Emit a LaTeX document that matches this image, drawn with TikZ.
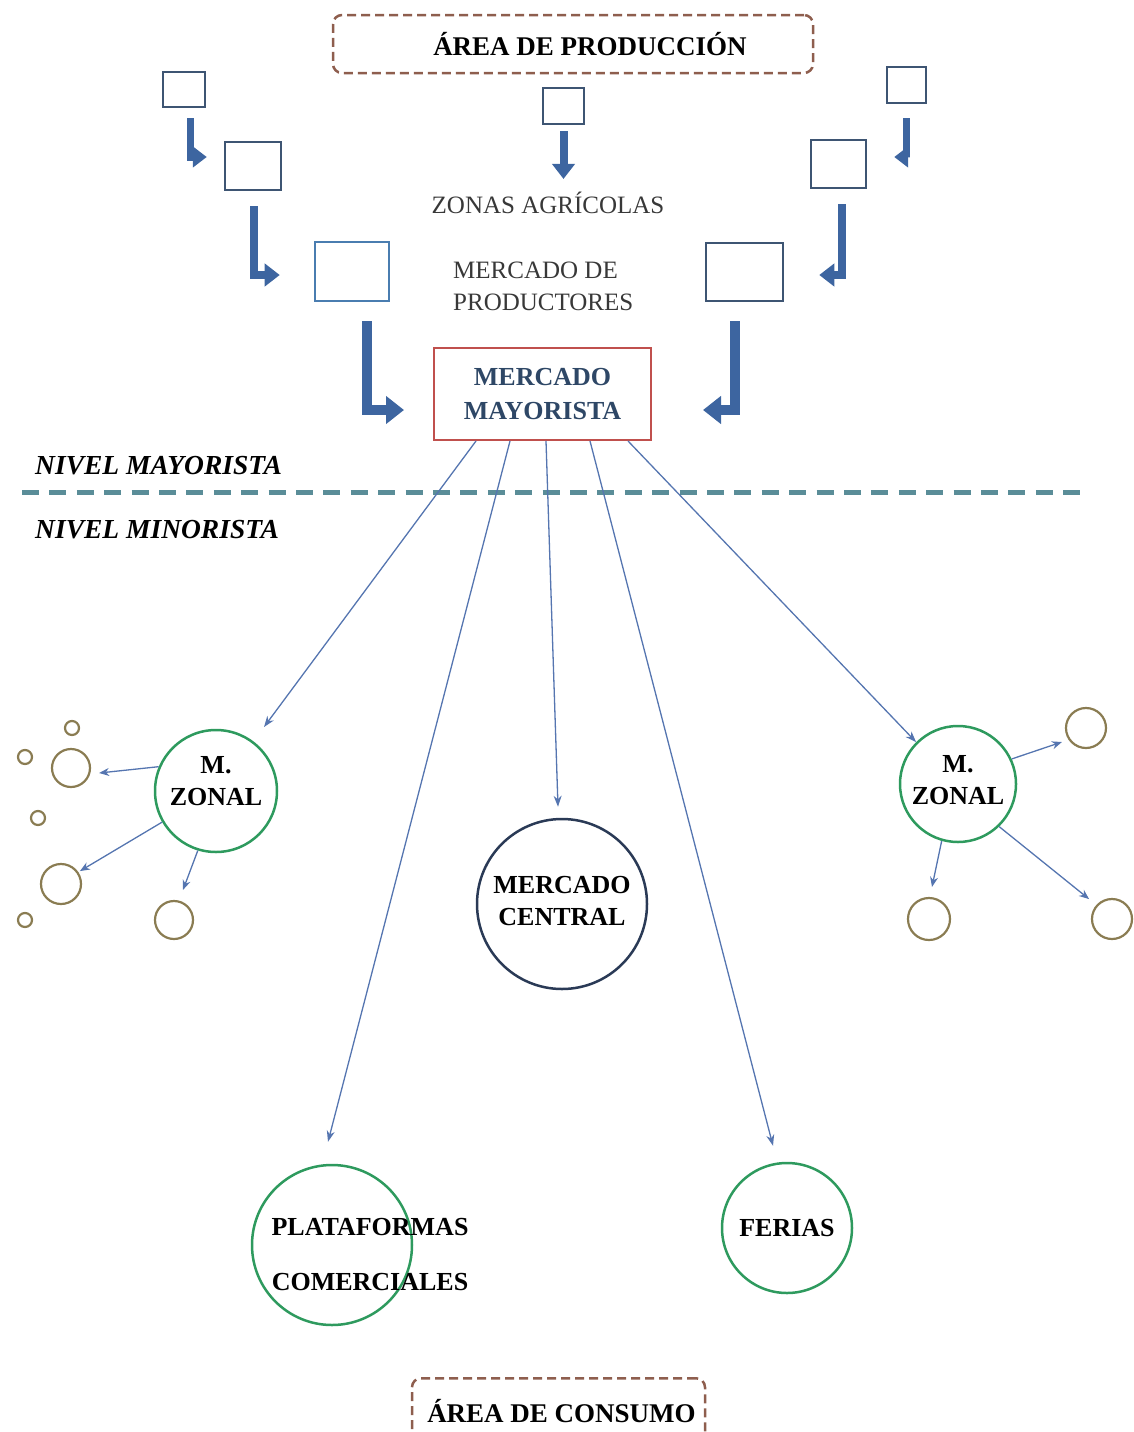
\documentclass[tikz,border=0pt]{standalone}
\usepackage{fontspec}
\setmainfont{Liberation Serif}
\usetikzlibrary{arrows.meta}

\definecolor{sqcol}{HTML}{3E5573}
\definecolor{sqlight}{HTML}{4A7DB0}
\definecolor{bcol}{HTML}{3D65A0}
\definecolor{maycol}{HTML}{C0504D}
\definecolor{maytext}{HTML}{2E4766}
\definecolor{arrcol}{HTML}{5575B0}
\definecolor{greencol}{HTML}{2E9A5E}
\definecolor{navycol}{HTML}{2A3A56}
\definecolor{olivecol}{HTML}{8A7C52}
\definecolor{dashcol}{HTML}{8E5E4E}
\definecolor{sepcol}{HTML}{5A8D98}
\definecolor{greytext}{HTML}{383838}

\tikzset{
  sq/.style={draw=sqcol, line width=2.5pt, inner sep=0pt, rectangle},
  barrow/.style={draw=bcol, line width=#1, line cap=butt, line join=miter,
    -{Triangle[length=1.4*#1+4pt, width=2.3*#1+4pt]}},
  thinarrow/.style={draw=arrcol, line width=1.3pt, -{Stealth[length=11pt, width=8pt]}},
  smallarrow/.style={draw=arrcol, line width=1.3pt, -{Stealth[length=10pt, width=8pt]}},
  areabox/.style={draw=dashcol, line width=2.5pt, dash pattern=on 9pt off 5pt,
    rounded corners=9pt, inner sep=0pt,
    font=\fontsize{27}{30}\selectfont\bfseries},
  plain/.style={font=\fontsize{25}{32}\selectfont, text=greytext, inner sep=0pt},
  nivel/.style={font=\fontsize{27.5}{30}\selectfont\bfseries\itshape, inner sep=0pt, anchor=west},
  market/.style={circle, line width=2.5pt, inner sep=0pt, align=center,
    font=\fontsize{26}{32}\selectfont\bfseries},
  zonal/.style={market, draw=greencol},
  label/.style={font=\fontsize{26}{32}\selectfont\bfseries, align=center, inner sep=0pt},
  shop/.style={circle, draw=olivecol, line width=2.2pt, inner sep=0pt},
}

\begin{document}
\begin{tikzpicture}[x=1pt, y=-1pt]
\useasboundingbox (0,0) rectangle (1134,1432);

% production area
\node[areabox, minimum width=480pt, minimum height=58pt] (prodarea) at (573,44)
  {\hspace*{34pt}ÁREA DE PRODUCCIÓN};

% farm squares
\node[sq, minimum width=42pt, minimum height=35pt] (L1) at (184,89.5) {};
\node[sq, minimum width=56pt, minimum height=48pt] (L2) at (253,166) {};
\node[sq, draw=sqlight, minimum width=74pt, minimum height=59pt] (L3) at (352,271.5) {};
\node[sq, minimum width=41pt, minimum height=36pt] (C)  at (563.5,106) {};
\node[sq, minimum width=39pt, minimum height=36pt] (R1) at (906.5,85) {};
\node[sq, minimum width=55pt, minimum height=48pt] (R2) at (838.5,164) {};
\node[sq, minimum width=77pt, minimum height=58pt] (R3) at (744.5,272) {};

% labels
\node[plain] (zonas) at (548,203) {ZONAS AGRÍCOLAS};
\node[plain, anchor=west, align=left] (prod) at (453,286) {MERCADO DE\\PRODUCTORES};

% wholesale market
\node[draw=maycol, line width=2pt, minimum width=217pt, minimum height=92pt,
  align=center, text=maytext, font=\fontsize{26}{34}\selectfont\bfseries]
  (MAY) at (542.5,394) {MERCADO\\MAYORISTA};

% bent flow arrows
\draw[barrow=7pt] ([xshift=6pt,yshift=-10pt]L1.south) |- ([xshift=-17pt,yshift=9pt]L2.west);
\draw[barrow=8pt] ([xshift=1pt,yshift=-15pt]L2.south) |- ([xshift=-34pt,yshift=-3.5pt]L3.west);
\draw[barrow=10pt] ([xshift=15pt,yshift=-19pt]L3.south) |- ([xshift=-29pt,yshift=-16pt]MAY.west);
\draw[barrow=8pt] ([yshift=-6pt]C.south) -- ([yshift=13pt]zonas.north -| C.south);
\draw[barrow=7pt] ([yshift=-14pt]R1.south) |- ([xshift=27pt,yshift=7pt]R2.east);
\draw[barrow=8pt] ([xshift=3.5pt,yshift=-15pt]R2.south) |- ([xshift=35pt,yshift=-3pt]R3.east);
\draw[barrow=10pt] ([xshift=-9.5pt,yshift=-19pt]R3.south) |- ([xshift=51pt,yshift=-16pt]MAY.east);

% level separator
\node[nivel] (mayor) at (35,466) {NIVEL MAYORISTA};
\node[nivel] (minor) at (35,530) {NIVEL MINORISTA};
\coordinate (sepL) at (22,492);
\coordinate (sepR) at (1090,492);
\draw[draw=sepcol, line width=5pt, dash pattern=on 17pt off 10.4pt] (sepL) -- (sepR);

% retail markets
\node[zonal, minimum size=122pt] (zL) at (216,791) {};
\node[label] (zLtext) at (216,781) {M.\\ZONAL};
\node[zonal, minimum size=116pt] (zR) at (958,784) {};
\node[label] (zRtext) at (958,780) {M.\\ZONAL};
\node[market, draw=navycol, minimum size=170pt] (cen) at (562,904) {};
\node[label] (centext) at (562,901) {MERCADO\\CENTRAL};
\node[zonal, minimum size=160pt] (plat) at (332,1245) {};
\node[label, font=\fontsize{26}{55}\selectfont\bfseries]
  (plattext) at (370,1255) {PLATAFORMAS\\COMERCIALES};
\node[zonal, minimum size=130pt] (fer) at (787,1228) {FERIAS};

% distribution arrows
\draw[thinarrow] ([xshift=-66.5pt]MAY.south) -- ([xshift=4pt,yshift=20pt]zL.north east);
\draw[thinarrow] ([xshift=-32.5pt]MAY.south) -- ([xshift=-4pt,yshift=22pt]plat.north);
\draw[thinarrow] ([xshift=3.5pt]MAY.south) -- ([xshift=-4pt,yshift=11pt]cen.north);
\draw[thinarrow] ([xshift=47.5pt]MAY.south) -- ([xshift=-14pt,yshift=16pt]fer.north);
\draw[thinarrow] ([xshift=85.5pt]MAY.south) -- (zR.north west);

% small outlets
\node[shop, minimum size=14pt] (s1) at (25,757) {};
\node[shop, minimum size=14pt] (s2) at (72,728) {};
\node[shop, minimum size=38pt] (m1) at (71,768) {};
\node[shop, minimum size=14pt] (s3) at (38,818) {};
\node[shop, minimum size=40pt] (m2) at (61,884) {};
\node[shop, minimum size=14pt] (s4) at (25,920) {};
\node[shop, minimum size=38pt] (m3) at (174,920) {};
\node[shop, minimum size=40pt] (m4) at (1086,728) {};
\node[shop, minimum size=42pt] (m5) at (929,919) {};
\node[shop, minimum size=40pt] (m6) at (1112,919) {};

\draw[smallarrow] (zL.157) -- ([xshift=8pt,yshift=-5pt]m1.east);
\draw[smallarrow] (zL.210) -- ([xshift=4pt,yshift=-2pt]m2.north east);
\draw[smallarrow] (zL.253) -- ([xshift=9pt,yshift=10pt]m3.north);
\draw[smallarrow] (zR.25) -- ([xshift=-3pt,yshift=-14pt]m4.west);
\draw[smallarrow] (zR.254) -- ([xshift=3pt,yshift=10pt]m5.north);
\draw[smallarrow] (zR.314) -- ([xshift=-8pt,yshift=5pt]m6.north west);

% consumption area
\node[areabox, minimum width=293pt, minimum height=66pt, anchor=north] (consarea) at (558.5,1377)
  {\hspace*{6pt}ÁREA DE CONSUMO};
\end{tikzpicture}
\end{document}
